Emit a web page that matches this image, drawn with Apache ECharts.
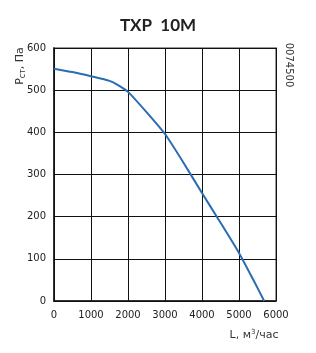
<!DOCTYPE html>
<html>
<head>
<meta charset="utf-8">
<script src="https://cdn.jsdelivr.net/npm/echarts@6/dist/echarts.min.js"></script>
<style>
  html, body { margin: 0; padding: 0; background: #fff; }
  #main { width: 316px; height: 353px; }
</style>
</head>
<body>
<div id="main"></div>
<script>
// расход воздуха, м3/час и статическое давление, Па
var flow = [0, 500, 1000, 1500, 1730, 2000, 2500, 3000, 3500, 4000, 4400, 5000, 5400, 5680];
var pressure = [551, 543, 533, 522, 512, 496, 448, 396, 328, 256, 200, 114, 48, 0];
var xTicks = [0, 1000, 2000, 3000, 4000, 5000, 6000];
var yTicks = [0, 100, 200, 300, 400, 500, 600];

var points = [];
for (var i = 0; i < flow.length; i++) {
  points.push([flow[i], pressure[i]]);
}

var myChart = echarts.init(document.getElementById('main'));
var option = {
  backgroundColor: '#fff',
  animation: false,
  title: {
    text: 'TXP  10M',
    left: 'center',
    top: 12,
    textStyle: { fontFamily: 'Lato', fontWeight: 'bold', fontSize: 17, color: '#222' }
  },
  grid: {
    left: 54, right: 40, top: 48, bottom: 52,
    show: true,
    borderColor: '#999',
    borderWidth: 2
  },
  xAxis: {
    type: 'value',
    min: xTicks[0],
    max: xTicks[xTicks.length - 1],
    interval: 1000,
    axisLine: { show: true, lineStyle: { color: '#111', width: 1.5 } },
    axisTick: { show: false },
    axisLabel: {
      color: '#222', fontFamily: 'DejaVu Sans', fontSize: 10, margin: 9,
      formatter: function (v) { return String(v); }
    },
    splitLine: { show: true, lineStyle: { color: '#111', width: 1 } }
  },
  yAxis: {
    type: 'value',
    min: yTicks[0],
    max: yTicks[yTicks.length - 1],
    interval: 100,
    axisLine: { show: true, lineStyle: { color: '#111', width: 1.5 } },
    axisTick: { show: false },
    axisLabel: { color: '#222', fontFamily: 'DejaVu Sans', fontSize: 10, margin: 8 },
    splitLine: { show: true, lineStyle: { color: '#111', width: 1 } }
  },
  graphic: [
    {
      type: 'text',
      x: 20, y: 66,
      rotation: Math.PI / 2,
      style: {
        text: '{a|Р}{b|ст}{a|, Па}',
        align: 'center', verticalAlign: 'middle',
        rich: {
          a: { fontFamily: 'DejaVu Sans', fontSize: 11, fill: '#333' },
          b: { fontFamily: 'DejaVu Sans', fontSize: 8, fill: '#333', padding: [5, 0, 0, 0] }
        }
      }
    },
    {
      type: 'text',
      x: 289, y: 65,
      rotation: -Math.PI / 2,
      style: {
        text: '0074500',
        align: 'center', verticalAlign: 'middle',
        fontFamily: 'DejaVu Sans', fontSize: 10, fill: '#333'
      }
    },
    {
      type: 'text',
      x: 254, y: 335,
      style: {
        text: '{a|L, м}{b|3}{a|/час}',
        align: 'center', verticalAlign: 'middle',
        rich: {
          a: { fontFamily: 'DejaVu Sans', fontSize: 11, fill: '#333' },
          b: { fontFamily: 'DejaVu Sans', fontSize: 7, fill: '#333', padding: [0, 0, 5, 0] }
        }
      }
    }
  ],
  series: [{
    type: 'line',
    data: points,
    smooth: 0.2,
    showSymbol: false,
    lineStyle: { color: '#2a6db0', width: 2 }
  }]
};
myChart.setOption(option);
</script>
</body>
</html>
